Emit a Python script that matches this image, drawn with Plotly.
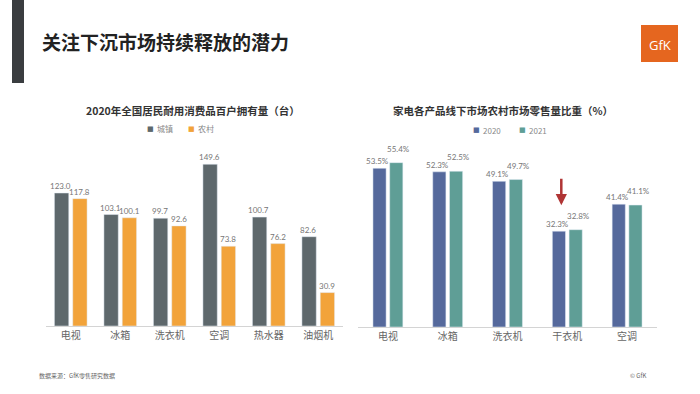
import plotly.graph_objects as go

# ---- data ----
left_categories = ["电视", "冰箱", "洗衣机", "空调", "热水器", "油烟机"]
urban_values = [123.0, 103.1, 99.7, 149.6, 100.7, 82.6]
rural_values = [117.8, 100.1, 92.6, 73.8, 76.2, 30.9]

right_categories = ["电视", "冰箱", "洗衣机", "干衣机", "空调"]
share_2020 = [53.5, 52.3, 49.1, 32.3, 41.4]
share_2021 = [55.4, 52.5, 49.7, 32.8, 41.1]

W, H = 700, 394
def px(x):
    return x / W
def py(y):
    return 1 - y / H

FONT = "Noto Sans CJK SC"
GRAY = "#5e686c"
ORANGE = "#f2a33a"
BLUE = "#55699c"
TEAL = "#5f9e96"
LBL = dict(size=8, color="#767676", family="Lato")

fig = go.Figure()

# left chart
fig.add_trace(go.Bar(x=left_categories, y=urban_values, name="城镇", marker_color=GRAY,
                     width=0.29, offset=-0.33, xaxis="x", yaxis="y"))
fig.add_trace(go.Bar(x=left_categories, y=rural_values, name="农村", marker_color=ORANGE,
                     width=0.29, offset=0.04, xaxis="x", yaxis="y"))
# right chart
fig.add_trace(go.Bar(x=right_categories, y=share_2020, name="2020", marker_color=BLUE,
                     width=0.22, offset=-0.25, xaxis="x2", yaxis="y2"))
fig.add_trace(go.Bar(x=right_categories, y=share_2021, name="2021", marker_color=TEAL,
                     width=0.22, offset=0.03, xaxis="x2", yaxis="y2"))

axis_common = dict(showgrid=False, zeroline=False, ticks="",
                   tickfont=dict(size=10, color="#666666", family=FONT),
                   showline=True, linecolor="#d4d4d4", linewidth=1)
fig.update_layout(
    width=W, height=H,
    margin=dict(l=0, r=0, t=0, b=0),
    paper_bgcolor="white", plot_bgcolor="white",
    font=dict(family=FONT),
    barmode="overlay",
    showlegend=False,
    xaxis=dict(domain=[px(46), px(343)], anchor="y", **axis_common),
    yaxis=dict(domain=[py(326), py(153)], range=[0, 160], visible=False, anchor="x"),
    xaxis2=dict(domain=[px(358), px(657)], anchor="y2", **axis_common),
    yaxis2=dict(domain=[py(327), py(149)], range=[0, 60], visible=False, anchor="x2"),
)

def legend_item(name, color, x, y):
    return [
        dict(text="■", x=px(x), y=py(y), xref="paper", yref="paper", xanchor="center",
             yanchor="middle", showarrow=False, font=dict(size=7, color=color, family="DejaVu Sans")),
        dict(text=name, x=px(x + 5), y=py(y), xref="paper", yref="paper", xanchor="left",
             yanchor="middle", showarrow=False, font=dict(size=8, color="#8a8a8a", family=FONT)),
    ]

def value_labels(cats, vals, fmt, xref, yref, xshift, yshift):
    return [dict(text=fmt.format(v), x=c, y=v, xref=xref, yref=yref, xanchor="center",
                 yanchor="middle", xshift=xshift, yshift=yshift, showarrow=False, font=LBL)
            for c, v in zip(cats, vals)]

annotations = [
    dict(text="<b>关注下沉市场持续释放的潜力</b>", x=px(40), y=py(42), xref="paper", yref="paper",
         xanchor="left", yanchor="middle", showarrow=False,
         font=dict(size=19, color="#222222", family=FONT)),
    dict(text="<b>2020年全国居民耐用消费品百户拥有量（台）</b>", x=px(193), y=py(110),
         xref="paper", yref="paper", xanchor="center", yanchor="middle", showarrow=False,
         font=dict(size=10.5, color="#333333", family=FONT)),
    dict(text="<b>家电各产品线下市场农村市场零售量比重（%）</b>", x=px(503), y=py(110),
         xref="paper", yref="paper", xanchor="center", yanchor="middle", showarrow=False,
         font=dict(size=10.5, color="#333333", family=FONT)),
    dict(text="GfK", x=px(660), y=py(45), xref="paper", yref="paper",
         xanchor="center", yanchor="middle", showarrow=False,
         font=dict(size=13, color="white", family="Open Sans")),
    dict(text="数据来源：GfK零售研究数据", x=px(37), y=py(375), xref="paper", yref="paper",
         xanchor="left", yanchor="middle", showarrow=False,
         font=dict(size=6, color="#666666", family=FONT)),
    dict(text="© GfK", x=px(628), y=py(375), xref="paper", yref="paper",
         xanchor="left", yanchor="middle", showarrow=False,
         font=dict(size=6, color="#666666", family=FONT)),
    # red arrow above 干衣机
    dict(x="干衣机", y=41, xref="x2", yref="y2", xshift=-6, ax=0, ay=-28,
         showarrow=True, arrowhead=2, arrowsize=0.9, arrowwidth=2.5, arrowcolor="#b03535", text=""),
]
annotations += value_labels(left_categories, urban_values, "{:.1f}", "x", "y", -10, 7)
annotations += value_labels(left_categories, rural_values, "{:.1f}", "x", "y", 9, 7)
annotations += value_labels(right_categories, share_2020, "{:.1f}%", "x2", "y2", -10, 7)
annotations += value_labels(right_categories, share_2021, "{:.1f}%", "x2", "y2", 11, 14)
annotations += legend_item("城镇", GRAY, 150, 129)
annotations += legend_item("农村", ORANGE, 191, 129)
annotations += legend_item("2020", BLUE, 476, 130)
annotations += legend_item("2021", TEAL, 522, 130)
fig.update_layout(annotations=annotations)

shapes = [
    dict(type="rect", xref="paper", yref="paper", x0=px(12), x1=px(24), y0=py(83), y1=py(0),
         fillcolor="#3a3d40", line=dict(width=0), layer="below"),
    dict(type="rect", xref="paper", yref="paper", x0=px(641), x1=px(678), y0=py(62), y1=py(25),
         fillcolor="#e5661f", line=dict(width=0), layer="below"),
]
fig.update_layout(shapes=shapes)

fig.write_html("out.html", config={"displayModeBar": False},
               post_script="document.body.style.margin='0px';document.body.style.overflow='hidden';")
